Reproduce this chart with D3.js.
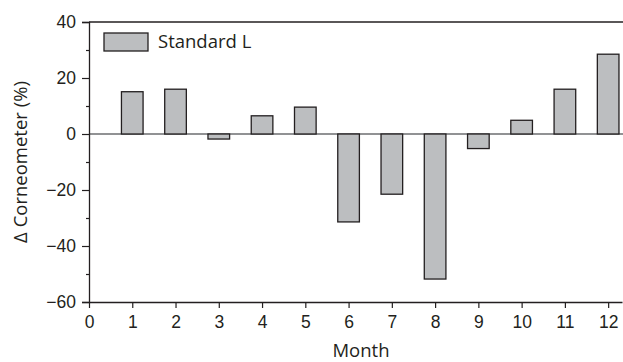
<!DOCTYPE html>
<html>
<head>
<meta charset="utf-8">
<script src="https://cdn.jsdelivr.net/npm/d3@7"></script>
<style>
  html, body { margin: 0; padding: 0; background: #fff; }
  svg { display: block; font-family: "Open Sans", "Noto Sans", sans-serif; }
</style>
</head>
<body>
<svg id="chart" width="623" height="362"></svg>
<script>
// Monthly change in corneometer readings
const months = [1, 2, 3, 4, 5, 6, 7, 8, 9, 10, 11, 12];
const standardL = [15.1, 16.0, -1.8, 6.5, 9.6, -31.4, -21.5, -51.8, -5.2, 4.9, 16.0, 28.5];
const xTicks = [0, 1, 2, 3, 4, 5, 6, 7, 8, 9, 10, 11, 12];
const yTicks = [-60, -40, -20, 0, 20, 40];
const yMinorTicks = [-50, -30, -10, 10, 30];
const seriesName = "Standard L";

const ink = "#231f20";
const svg = d3.select("#chart");
const plot = { left: 89, right: 622, top: 22, bottom: 302 };

const x = d3.scaleLinear().domain([0, 12.32]).range([plot.left, plot.right]);
const y = d3.scaleLinear().domain([-60, 40]).range([plot.bottom, plot.top]);
const barW = x(0.5) - x(0);

// frame top line
svg.append("line")
  .attr("x1", plot.left).attr("x2", 623)
  .attr("y1", y(40)).attr("y2", y(40))
  .attr("stroke", ink).attr("stroke-width", 1.3);

// zero reference line
svg.append("line")
  .attr("x1", plot.left).attr("x2", 623)
  .attr("y1", y(0)).attr("y2", y(0))
  .attr("stroke", "#6d6e71").attr("stroke-width", 1.3);

// bars
svg.append("g").selectAll("rect")
  .data(months.map((m, i) => ({ m, v: standardL[i] })))
  .join("rect")
  .attr("x", d => x(d.m) - barW / 2)
  .attr("width", barW)
  .attr("y", d => y(Math.max(0, d.v)))
  .attr("height", d => Math.abs(y(d.v) - y(0)))
  .attr("fill", "#bcbec0")
  .attr("stroke", ink)
  .attr("stroke-width", 1.3);

// y axis
const yAxis = svg.append("g")
  .attr("transform", `translate(${plot.left},0)`)
  .call(d3.axisLeft(y).tickValues(yTicks).tickSize(7).tickPadding(6)
    .tickFormat(d => d < 0 ? "\u2212" + Math.abs(d) : d));
yAxis.select(".domain").attr("stroke", ink).attr("stroke-width", 1.3);
yAxis.selectAll(".tick line").attr("stroke", ink).attr("stroke-width", 1.2);
yAxis.selectAll("text").attr("fill", ink).attr("font-size", 17.5);
svg.append("g")
  .attr("transform", `translate(${plot.left},0)`)
  .call(d3.axisLeft(y).tickValues(yMinorTicks).tickSize(3).tickFormat(""))
  .call(g => g.select(".domain").remove())
  .selectAll(".tick line").attr("stroke", ink).attr("stroke-width", 1.2);

// x axis
const xAxis = svg.append("g")
  .attr("transform", `translate(0,${plot.bottom})`)
  .call(d3.axisBottom(x).tickValues(xTicks).tickSize(6).tickPadding(8).tickSizeOuter(0));
xAxis.select(".domain").attr("stroke", ink).attr("stroke-width", 1.3);
xAxis.selectAll(".tick line").attr("stroke", ink).attr("stroke-width", 1.2);
xAxis.selectAll("text").attr("fill", ink).attr("font-size", 17.5);

// axis titles
svg.append("text")
  .attr("x", 361).attr("y", 357)
  .attr("text-anchor", "middle")
  .attr("fill", ink).attr("font-size", 18.5)
  .text("Month");
svg.append("text")
  .attr("transform", `translate(27,${y(-10)}) rotate(-90)`)
  .attr("text-anchor", "middle")
  .attr("fill", ink).attr("font-size", 18.5)
  .text("\u0394 Corneometer (%)");

// legend
const legend = svg.append("g").attr("transform", "translate(104,33)");
legend.append("rect")
  .attr("width", 44).attr("height", 18)
  .attr("fill", "#bcbec0").attr("stroke", ink).attr("stroke-width", 1.3);
legend.append("text")
  .attr("x", 54).attr("y", 15)
  .attr("fill", ink).attr("font-size", 18.5)
  .text(seriesName);
</script>
</body>
</html>
